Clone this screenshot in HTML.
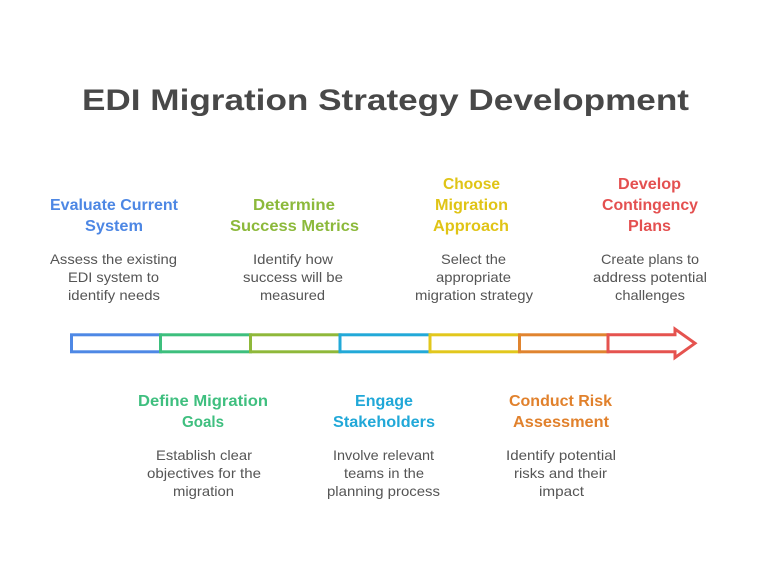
<!DOCTYPE html>
<html>
<head>
<meta charset="utf-8">
<style>
html,body{margin:0;padding:0;background:#fff;}
svg{display:block;}
.t{font-family:"Liberation Sans",Arial,sans-serif;}
.h{font-weight:bold;font-size:16px;}
.d{font-size:14px;fill:#555555;}
</style>
</head>
<body>
<svg width="768" height="580" viewBox="0 0 768 580" xmlns="http://www.w3.org/2000/svg">
<rect width="768" height="580" fill="#ffffff"/>

<text class="t" x="82" y="110" font-size="30" font-weight="bold" fill="#484848" textLength="607" lengthAdjust="spacingAndGlyphs">EDI Migration Strategy Development</text>

<!-- bar segments -->
<g fill="none" stroke-width="3" stroke-linejoin="miter">
<rect x="71.5" y="334.8" width="89" height="17" stroke="#4e88e5"/>
<rect x="160.5" y="334.8" width="90" height="17" stroke="#3dbf7d"/>
<rect x="250.5" y="334.8" width="89.5" height="17" stroke="#8fb83a"/>
<rect x="340" y="334.8" width="90" height="17" stroke="#22a9d8"/>
<rect x="430" y="334.8" width="89.5" height="17" stroke="#e2c71c"/>
<rect x="519.5" y="334.8" width="88.5" height="17" stroke="#e0842f"/>
<path d="M608 334.8 L675 334.8 L675 329 L695 343.3 L675 357.6 L675 351.8 L608 351.8 Z" stroke="#e5534f"/>
</g>

<!-- Blue -->
<g class="t">
<text class="h" fill="#4d87e4" x="50" y="210" textLength="128" lengthAdjust="spacingAndGlyphs">Evaluate Current</text>
<text class="h" fill="#4d87e4" x="85" y="231" textLength="58" lengthAdjust="spacingAndGlyphs">System</text>
<text class="d" x="50" y="264" textLength="127" lengthAdjust="spacingAndGlyphs">Assess the existing</text>
<text class="d" x="68" y="282" textLength="91" lengthAdjust="spacingAndGlyphs">EDI system to</text>
<text class="d" x="68" y="300" textLength="92" lengthAdjust="spacingAndGlyphs">identify needs</text>

<!-- Olive -->
<text class="h" fill="#8cb93b" x="253" y="210" textLength="82" lengthAdjust="spacingAndGlyphs">Determine</text>
<text class="h" fill="#8cb93b" x="230" y="231" textLength="129" lengthAdjust="spacingAndGlyphs">Success Metrics</text>
<text class="d" x="253" y="264" textLength="80" lengthAdjust="spacingAndGlyphs">Identify how</text>
<text class="d" x="243" y="282" textLength="100" lengthAdjust="spacingAndGlyphs">success will be</text>
<text class="d" x="260" y="300" textLength="65" lengthAdjust="spacingAndGlyphs">measured</text>

<!-- Yellow -->
<text class="h" fill="#e0c416" x="443" y="189" textLength="57" lengthAdjust="spacingAndGlyphs">Choose</text>
<text class="h" fill="#e0c416" x="435" y="210" textLength="73" lengthAdjust="spacingAndGlyphs">Migration</text>
<text class="h" fill="#e0c416" x="433" y="231" textLength="76" lengthAdjust="spacingAndGlyphs">Approach</text>
<text class="d" x="441" y="264" textLength="65" lengthAdjust="spacingAndGlyphs">Select the</text>
<text class="d" x="436" y="282" textLength="75" lengthAdjust="spacingAndGlyphs">appropriate</text>
<text class="d" x="415" y="300" textLength="118" lengthAdjust="spacingAndGlyphs">migration strategy</text>

<!-- Red -->
<text class="h" fill="#e45050" x="618" y="189" textLength="63" lengthAdjust="spacingAndGlyphs">Develop</text>
<text class="h" fill="#e45050" x="602" y="210" textLength="96" lengthAdjust="spacingAndGlyphs">Contingency</text>
<text class="h" fill="#e45050" x="628" y="231" textLength="43" lengthAdjust="spacingAndGlyphs">Plans</text>
<text class="d" x="601" y="264" textLength="98" lengthAdjust="spacingAndGlyphs">Create plans to</text>
<text class="d" x="593" y="282" textLength="114" lengthAdjust="spacingAndGlyphs">address potential</text>
<text class="d" x="615" y="300" textLength="70" lengthAdjust="spacingAndGlyphs">challenges</text>

<!-- Green -->
<text class="h" fill="#3fbf7f" x="138" y="406" textLength="130" lengthAdjust="spacingAndGlyphs">Define Migration</text>
<text class="h" fill="#3fbf7f" x="182" y="427" textLength="42" lengthAdjust="spacingAndGlyphs">Goals</text>
<text class="d" x="156" y="460" textLength="96" lengthAdjust="spacingAndGlyphs">Establish clear</text>
<text class="d" x="147" y="478" textLength="114" lengthAdjust="spacingAndGlyphs">objectives for the</text>
<text class="d" x="173" y="496" textLength="61" lengthAdjust="spacingAndGlyphs">migration</text>

<!-- Cyan -->
<text class="h" fill="#21a8d8" x="355" y="406" textLength="58" lengthAdjust="spacingAndGlyphs">Engage</text>
<text class="h" fill="#21a8d8" x="333" y="427" textLength="102" lengthAdjust="spacingAndGlyphs">Stakeholders</text>
<text class="d" x="333" y="460" textLength="101" lengthAdjust="spacingAndGlyphs">Involve relevant</text>
<text class="d" x="344" y="478" textLength="80" lengthAdjust="spacingAndGlyphs">teams in the</text>
<text class="d" x="327" y="496" textLength="113" lengthAdjust="spacingAndGlyphs">planning process</text>

<!-- Orange -->
<text class="h" fill="#e1812c" x="509" y="406" textLength="103" lengthAdjust="spacingAndGlyphs">Conduct Risk</text>
<text class="h" fill="#e1812c" x="513" y="427" textLength="96" lengthAdjust="spacingAndGlyphs">Assessment</text>
<text class="d" x="506" y="460" textLength="110" lengthAdjust="spacingAndGlyphs">Identify potential</text>
<text class="d" x="514" y="478" textLength="93" lengthAdjust="spacingAndGlyphs">risks and their</text>
<text class="d" x="539" y="496" textLength="45" lengthAdjust="spacingAndGlyphs">impact</text>
</g>
</svg>
</body>
</html>
